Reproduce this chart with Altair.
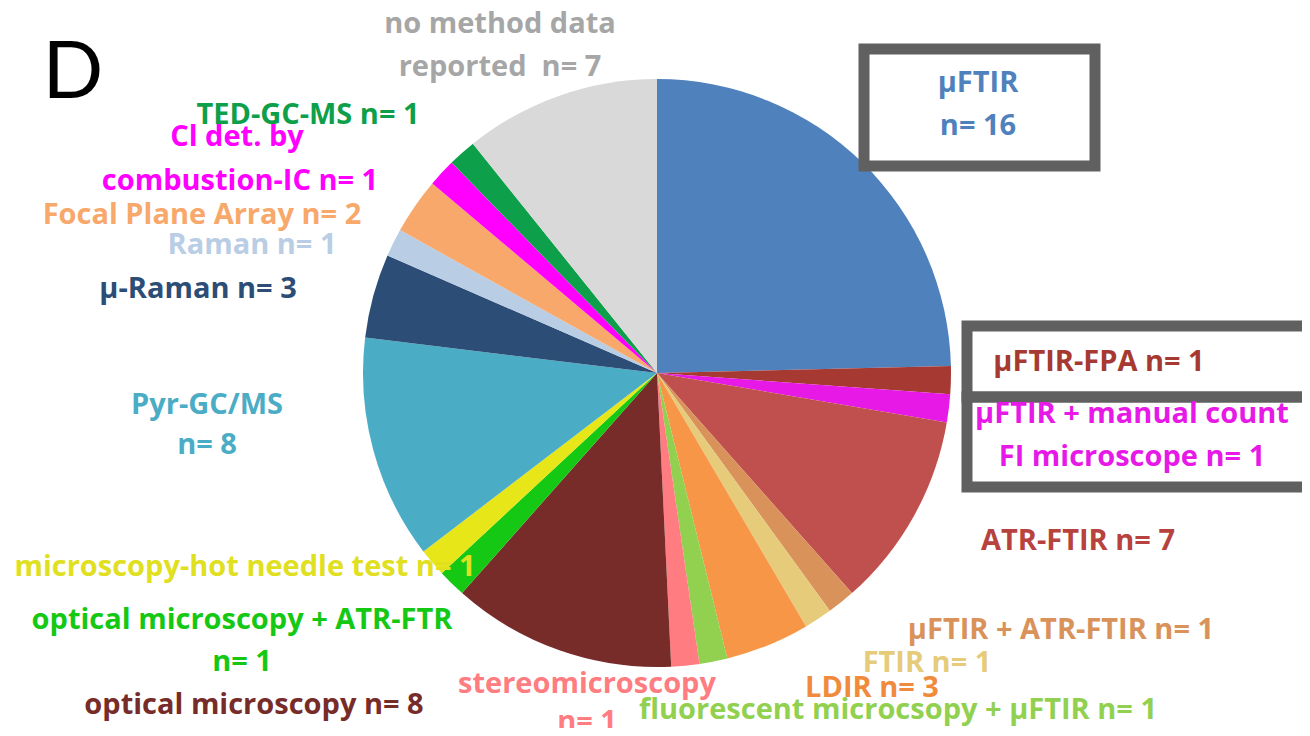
import altair as alt
import pandas as pd

# ---- data ----
methods = [
    "µFTIR", "µFTIR-FPA", "µFTIR + manual count FI microscope", "ATR-FTIR",
    "µFTIR + ATR-FTIR", "FTIR", "LDIR", "fluorescent microcsopy + µFTIR",
    "stereomicroscopy", "optical microscopy", "optical microscopy + ATR-FTR",
    "microscopy-hot needle test", "Pyr-GC/MS", "µ-Raman", "Raman",
    "Focal Plane Array", "Cl det. by combustion-IC", "TED-GC-MS",
    "no method data reported",
]
counts = [16, 1, 1, 7, 1, 1, 3, 1, 1, 8, 1, 1, 8, 3, 1, 2, 1, 1, 7]
slice_colors = [
    "#4F81BD", "#A63A32", "#E619E6", "#C0504D", "#D9925A", "#E6CB7A",
    "#F79646", "#92D050", "#FF7C80", "#772C2A", "#14C814", "#E6E619",
    "#4BACC6", "#2C4D75", "#B9CDE5", "#F7A86A", "#FF00FF", "#0E9F4A",
    "#D9D9D9",
]

# label lines (text, colour)
label_texts = [
    "no method data", "reported \u00a0n= 7",
    "TED-GC-MS n= 1", "Cl det. by", "combustion-IC n= 1",
    "Focal Plane Array n= 2", "Raman n= 1", "µ-Raman n= 3",
    "Pyr-GC/MS", "n= 8",
    "microscopy-hot needle test n= 1",
    "optical microscopy + ATR-FTR", "n= 1",
    "optical microscopy n= 8",
    "stereomicroscopy", "n= 1",
    "LDIR n= 3", "FTIR n= 1", "fluorescent microcsopy + µFTIR n= 1",
    "µFTIR + ATR-FTIR n= 1", "ATR-FTIR n= 7",
    "µFTIR-FPA n= 1", "µFTIR + manual count", "FI microscope n= 1",
    "µFTIR", "n= 16",
]
label_colors = [
    "#A6A6A6", "#A6A6A6",
    "#0E9F4A", "#FF00FF", "#FF00FF",
    "#F7A86A", "#B9CDE5", "#2C4D75",
    "#4BACC6", "#4BACC6",
    "#E0E020",
    "#14C814", "#14C814",
    "#772C2A",
    "#FF7C80", "#FF7C80",
    "#F08A3C", "#E6CB7A", "#92D050",
    "#D9925A", "#B8423D",
    "#A63A32", "#E619E6", "#E619E6",
    "#4F81BD", "#4F81BD",
]

# ---- layout (pixel positions of label centres, page coordinates) ----
OFF = 8
label_pos = [
    (500, 24), (500, 67),
    (308, 115), (237, 137), (240, 181),
    (202, 215), (252, 245), (198, 289),
    (207, 405), (207, 445),
    (245, 567),
    (242, 620), (242, 662),
    (254, 705),
    (587, 684), (587, 722),
    (872, 688), (927, 663), (898, 710),
    (1061, 630), (1078, 541),
    (1099, 362), (1132, 414), (1132, 457),
    (978, 83), (978, 126),
]

pie_df = pd.DataFrame({
    "method": methods,
    "n": counts,
    "order": list(range(len(methods))),
    "color": slice_colors,
})

lab_df = pd.DataFrame({
    "text": label_texts,
    "color": label_colors,
    "px": [p[0] - OFF for p in label_pos],
    "py": [p[1] - OFF for p in label_pos],
})

W, H = 1294, 720
CX, CY, R = 657 - OFF, 373 - OFF, 294

pie = alt.Chart(pie_df).mark_arc(stroke=None).encode(
    theta=alt.Theta("n:Q", stack=True),
    order=alt.Order("order:Q"),
    color=alt.Color("color:N", scale=None, legend=None),
    x=alt.value(CX),
    y=alt.value(CY),
    radius=alt.value(R),
)

labels = alt.Chart(lab_df).mark_text(
    font="Open Sans", fontWeight="bold", fontSize=29, align="center", baseline="middle"
).encode(
    x=alt.X("px:Q", scale=None),
    y=alt.Y("py:Q", scale=None),
    text="text:N",
    color=alt.Color("color:N", scale=None, legend=None),
)

panel_letter = alt.Chart(pd.DataFrame({"t": ["D"]})).mark_text(
    font="Lato", fontSize=80, align="center", baseline="middle", color="black"
).encode(x=alt.value(73 - OFF), y=alt.value(74 - OFF), text="t:N")

def box(x0, y0, x1, y1):
    return alt.Chart(pd.DataFrame({"a": [0]})).mark_rect(
        filled=False, stroke="#606060", strokeWidth=11
    ).encode(
        x=alt.value(x0 - OFF), x2=alt.value(x1 - OFF),
        y=alt.value(y0 - OFF), y2=alt.value(y1 - OFF),
    )

boxes = box(864, 49, 1095, 166) + box(967, 326, 1330, 397) + box(967, 397, 1330, 487)

chart = alt.layer(pie, boxes, labels, panel_letter).properties(
    width=W, height=H,
    autosize=alt.AutoSizeParams(type="fit", contains="padding"),
    padding=0,
).configure_view(stroke=None)

chart.save("out.html", embed_options={"renderer": "svg", "actions": False})
